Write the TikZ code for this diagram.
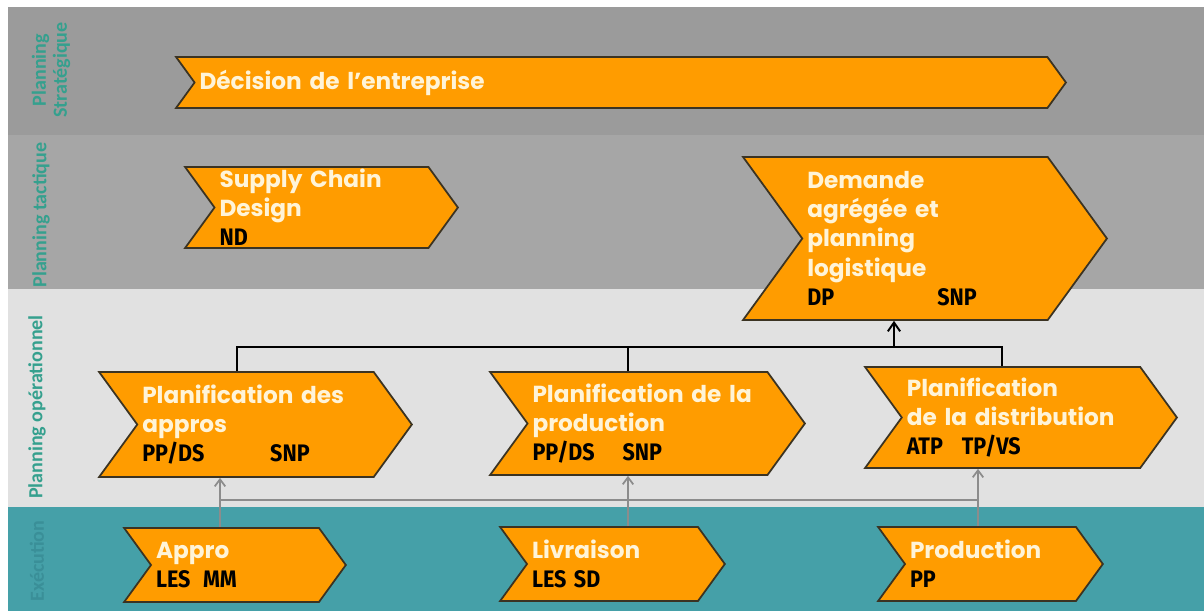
\documentclass[tikz,border=0pt]{standalone}
\usepackage{fontspec}
\setmainfont{Poppins}
\newfontfamily\codefont[FakeStretch=0.9]{Fira Sans}
\newfontfamily\bandfont{Carlito}
\usetikzlibrary{shapes.symbols,arrows.meta}

\definecolor{stratgray}{HTML}{9B9B9B}
\definecolor{tactgray}{HTML}{A6A6A6}
\definecolor{opgray}{HTML}{E1E1E1}
\definecolor{exteal}{HTML}{45A0A8}
\definecolor{chevorange}{HTML}{FF9C00}
\definecolor{chevedge}{HTML}{3B3322}
\definecolor{cream}{HTML}{FFF4D8}
\definecolor{labelteal}{HTML}{35A08E}
\definecolor{exlabel}{HTML}{3A8F98}
\definecolor{feedgray}{HTML}{8C8C8C}

\tikzset{
  chev/.style={shape=signal, signal from=west, signal to=east,
    signal pointer angle=108, fill=chevorange, draw=chevedge, line width=1pt,
    inner xsep=0.1cm, inner ysep=0pt, align=left, text=cream,
    font=\fontsize{13.2}{16.6}\selectfont\bfseries},
  band/.style={rotate=90, text=labelteal, align=center,
    font=\bandfont\fontsize{11.4}{12}\selectfont\bfseries},
  tree/.style={line width=1.1pt, draw=black},
  feed/.style={line width=1pt, draw=feedgray},
}
\newcommand{\sap}[1]{{\codefont\fontsize{13.6}{16.6}\selectfont\color{black}#1}}

\begin{document}
\begin{tikzpicture}[x=0.02cm,y=-0.02cm]
\useasboundingbox (0,0) rectangle (1204,611);

% bands
\fill[white] (0,0) rectangle (1204,611);
\fill[stratgray] (8,7) rectangle (1204,135);
\fill[tactgray] (8,135) rectangle (1204,289);
\fill[opgray] (8,289) rectangle (1204,507);
\fill[exteal] (8,507) rectangle (1204,611);

\node[band] (strat) at (51,70) {Planning\\Stratégique};
\node[band] (tact) at (41,215) {Planning tactique};
\node[band] (oper) at (37,407) {Planning opérationnel};
\node[band,text=exlabel] (exec) at (37,561) {Exécution};

% chevrons
\node[chev, minimum height=1.02cm, text width=16.86cm] (decision) at (621,82.5) {Décision de l'entreprise};
\node[chev, minimum height=1.62cm, text width=4.08cm] (scd) at (321.5,207.5) {Supply Chain\\Design\\\sap{ND}};
\node[chev, minimum height=3.26cm, text width=4.71cm] (demande) at (925,238.5) {Demande\\agrégée et\\planning\\logistique\\\sap{\makebox[2.6cm][l]{DP}SNP}};
\node[chev, minimum height=2.1cm, text width=4.53cm] (appros) at (255.5,424.5) {Planification des\\appros\\\sap{\makebox[2.56cm][l]{PP/DS}SNP}};
\node[chev, minimum height=2.06cm, text width=4.6cm] (prodplan) at (647.5,423.5) {Planification de la\\production\\\sap{\makebox[1.8cm][l]{PP/DS}SNP}};
\node[chev, minimum height=2.02cm, text width=4.57cm] (distrib) at (1021,417.5) {Planification\\de la distribution\\\sap{\makebox[1.1cm][l]{ATP}TP/VS}};
\node[chev, minimum height=1.48cm, text width=3.16cm] (appro) at (235,565) {Appro\\\sap{\makebox[0.94cm][l]{LES}MM}};
\node[chev, minimum height=1.48cm, text width=3.22cm] (livraison) at (612.5,564) {Livraison\\\sap{\makebox[0.84cm][l]{LES}SD}};
\node[chev, minimum height=1.48cm, text width=3.22cm] (production) at (990.5,564) {Production\\\sap{PP}};

% operational plans feed the aggregated demand
\coordinate (bA) at (237,347);
\coordinate (bB) at (628,347);
\coordinate (bC) at (1002,347);
\coordinate (bD) at (894,347);
\draw[tree] (bA |- appros.north) -- (bA) -- (bC) -- (bC |- distrib.north);
\draw[tree] (bB) -- (bB |- prodplan.north);
\draw[tree,-{Straight Barb[length=5pt,width=7pt]}] (bD) -- (bD |- demande.south);

% execution feedback
\coordinate (gA) at (220,500);
\coordinate (gB) at (628,500);
\coordinate (gC) at (978,500);
\draw[feed] (gA) -- (gC);
\draw[feed,-{Straight Barb[length=4pt,width=6pt]}] (gA |- appro.north) -- (gA |- appros.south);
\draw[feed,-{Straight Barb[length=4pt,width=6pt]}] (gB |- livraison.north) -- (gB |- prodplan.south);
\draw[feed,-{Straight Barb[length=4pt,width=6pt]}] (gC |- production.north) -- (gC |- distrib.south);

\end{tikzpicture}
\end{document}
